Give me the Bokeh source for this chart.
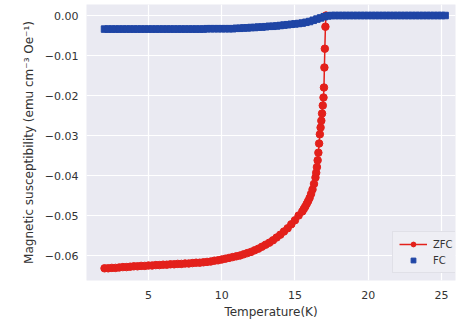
from bokeh.plotting import figure
from bokeh.models import Range1d, FixedTicker, CustomJSTickFormatter, Legend, LegendItem
from bokeh.embed import file_html
from bokeh.resources import INLINE

# ---- data ----
zfc_T = [2.00, 2.25, 2.50, 2.75, 3.00, 3.25, 3.50, 3.75, 4.00, 4.25, 4.50, 4.75,
         5.00, 5.25, 5.50, 5.75, 6.00, 6.25, 6.50, 6.75, 7.00, 7.25, 7.50, 7.75,
         8.00, 8.25, 8.50, 8.75, 9.00, 9.25, 9.50, 9.75, 10.00, 10.25, 10.50, 10.75,
         11.00, 11.25, 11.50, 11.75, 12.00, 12.25, 12.50, 12.75, 13.00, 13.25, 13.50,
         13.75, 14.00, 14.25, 14.50, 14.75, 15.00, 15.25, 15.50, 15.60, 15.70, 15.80,
         15.90, 16.00, 16.10, 16.20, 16.30, 16.40, 16.45, 16.50, 16.55, 16.60, 16.65,
         16.70, 16.75, 16.80, 16.85, 16.90, 16.95, 16.98, 17.01, 17.04, 17.08, 17.12]
zfc_chi = [-0.0632, -0.0632, -0.0631, -0.0631, -0.0630, -0.0629, -0.0629, -0.0628,
           -0.0627, -0.0627, -0.0626, -0.0626, -0.0625, -0.0625, -0.0624, -0.0624,
           -0.0623, -0.0623, -0.0622, -0.0622, -0.0621, -0.0621, -0.0620, -0.0620,
           -0.0619, -0.0618, -0.0618, -0.0617, -0.0616, -0.0615, -0.0613, -0.0612,
           -0.0610, -0.0608, -0.0606, -0.0604, -0.0602, -0.0600, -0.0597, -0.0594,
           -0.0591, -0.0587, -0.0583, -0.0578, -0.0573, -0.0568, -0.0562, -0.0555,
           -0.0548, -0.0540, -0.0532, -0.0522, -0.0512, -0.0500, -0.0490, -0.0484,
           -0.0478, -0.0471, -0.0464, -0.0456, -0.0446, -0.0435, -0.0421, -0.0405,
           -0.0393, -0.0379, -0.0362, -0.0343, -0.0320, -0.0297, -0.0280, -0.0263,
           -0.0245, -0.0225, -0.0205, -0.0180, -0.0130, -0.0083, -0.0028, 0.0000]

fc_T = [2.00, 2.25, 2.50, 2.75, 3.00, 3.25, 3.50, 3.75, 4.00, 4.25, 4.50, 4.75,
        5.00, 5.25, 5.50, 5.75, 6.00, 6.25, 6.50, 6.75, 7.00, 7.25, 7.50, 7.75,
        8.00, 8.25, 8.50, 8.75, 9.00, 9.25, 9.50, 9.75, 10.00, 10.25, 10.50, 10.75,
        11.00, 11.25, 11.50, 11.75, 12.00, 12.25, 12.50, 12.75, 13.00, 13.25, 13.50,
        13.75, 14.00, 14.25, 14.50, 14.75, 15.00, 15.25, 15.50, 15.75, 16.00, 16.25,
        16.50, 16.75, 17.00, 17.25, 17.50, 17.75, 18.00, 18.25, 18.50, 18.75, 19.00,
        19.25, 19.50, 19.75, 20.00, 20.25, 20.50, 20.75, 21.00, 21.25, 21.50, 21.75,
        22.00, 22.25, 22.50, 22.75, 23.00, 23.25, 23.50, 23.75, 24.00, 24.25, 24.50,
        24.75, 25.00, 25.25]
fc_chi = [-0.0034, -0.0034, -0.0034, -0.0034, -0.0034, -0.0034, -0.0034, -0.0034,
          -0.0034, -0.0034, -0.0034, -0.0034, -0.0034, -0.0034, -0.0034, -0.0034,
          -0.0034, -0.0034, -0.0034, -0.0034, -0.0034, -0.0034, -0.0034, -0.0034,
          -0.0034, -0.0034, -0.0034, -0.0034, -0.0033, -0.0033, -0.0033, -0.0033,
          -0.0033, -0.0033, -0.0033, -0.0033, -0.0032, -0.0032, -0.0031, -0.0031,
          -0.0030, -0.0030, -0.0029, -0.0029, -0.0028, -0.0027, -0.0027, -0.0026,
          -0.0025, -0.0024, -0.0023, -0.0022, -0.0021, -0.0020, -0.0019, -0.0017,
          -0.0015, -0.0012, -0.0009, -0.0006, -0.0003, -0.0001, 0.0000, 0.0000,
          0.0000, 0.0000, 0.0000, 0.0000, 0.0000, 0.0000, 0.0000, 0.0000,
          0.0000, 0.0000, 0.0000, 0.0000, 0.0000, 0.0000, 0.0000, 0.0000,
          0.0000, 0.0000, 0.0000, 0.0000, 0.0000, 0.0000, 0.0000, 0.0000,
          0.0000, 0.0000, 0.0000, 0.0000, 0.0000, 0.0000]

x_ticks = [5, 10, 15, 20, 25]
y_ticks = [0.0, -0.01, -0.02, -0.03, -0.04, -0.05, -0.06]

RED = "#e3201b"
BLUE = "#1f45a5"
FONT = "DejaVu Sans"
TXT = "#333333"

p = figure(width=459, height=321, output_backend="svg", toolbar_location=None,
           x_range=Range1d(0.77, 25.96), y_range=Range1d(-0.06625, 0.00275),
           min_border_left=86, min_border_right=4, min_border_top=4, min_border_bottom=41,
           background_fill_color="#eaeaf2", border_fill_color="white")
p.outline_line_color = None

p.xaxis.ticker = FixedTicker(ticks=x_ticks)
p.yaxis.ticker = FixedTicker(ticks=y_ticks)
p.yaxis.formatter = CustomJSTickFormatter(
    code="return (tick < -1e-9 ? '\u2212' : '') + Math.abs(tick).toFixed(2);")

for ax in (p.xaxis[0], p.yaxis[0]):
    ax.axis_line_color = None
    ax.major_tick_line_color = None
    ax.minor_tick_line_color = None
    ax.major_tick_out = 0
    ax.major_tick_in = 0
    ax.major_label_text_font = FONT
    ax.major_label_text_font_size = "11px"
    ax.major_label_text_color = TXT
    ax.axis_label_text_font = FONT
    ax.axis_label_text_font_size = "12px"
    ax.axis_label_text_color = TXT
    ax.axis_label_text_font_style = "normal"

p.xaxis.axis_label = "Temperature(K)"
p.yaxis.axis_label = "Magnetic susceptibility (emu cm\u207b\u00b3 Oe\u207b\u00b9)"
p.xaxis.major_label_standoff = 10
p.xaxis.axis_label_standoff = 3
p.yaxis.major_label_standoff = 8
p.yaxis.axis_label_standoff = 6

p.grid.grid_line_color = "white"
p.grid.grid_line_width = 1.2
p.grid.minor_grid_line_color = None

zl = p.line(zfc_T, zfc_chi, line_color=RED, line_width=1.5)
zs = p.scatter(zfc_T, zfc_chi, marker="circle", size=7.5, fill_color=RED, line_color=RED)
fs = p.scatter(fc_T, fc_chi, marker="square", size=6.5, fill_color=BLUE, line_color=BLUE)

legend = Legend(items=[LegendItem(label="ZFC", renderers=[zl, zs]),
                       LegendItem(label="FC", renderers=[fs])],
                location=(306, 7))
legend.label_text_font = FONT
legend.label_text_font_size = "10px"
legend.label_text_color = TXT
legend.glyph_width = 28
legend.glyph_height = 12
legend.spacing = 4
legend.padding = 6
legend.margin = 0
legend.label_standoff = 6
legend.background_fill_color = "#eeeef4"
legend.background_fill_alpha = 1.0
legend.border_line_color = "#d2d2da"
p.add_layout(legend, "center")

open("out.html", "w").write(file_html(p, INLINE))
